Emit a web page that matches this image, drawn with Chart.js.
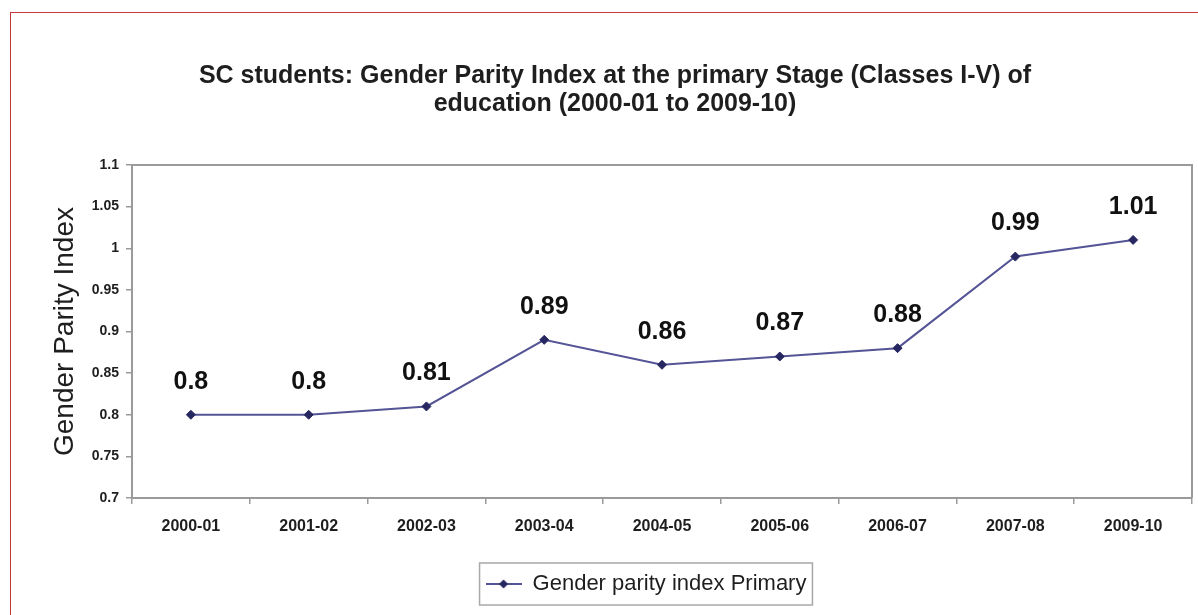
<!DOCTYPE html>
<html>
<head>
<meta charset="utf-8">
<title>SC students: Gender Parity Index</title>
<script src="https://cdn.jsdelivr.net/npm/chart.js@4/dist/chart.umd.min.js"></script>
<style>
  html, body { margin: 0; padding: 0; background: #fff; }
  #wrap { position: relative; width: 1198px; height: 615px; overflow: hidden; }
  #frame {
    position: absolute; left: 10px; top: 12px; width: 1300px; height: 700px;
    border-left: 1px solid #c4393d; border-top: 1px solid #c4393d;
  }
  #chart { position: absolute; left: 0; top: 0; }
</style>
</head>
<body>
<div id="wrap">
  <div id="frame"></div>
  <canvas id="chart" width="1198" height="615"></canvas>
</div>
<script>
// Gender Parity Index, primary stage, SC students
const years = ['2000-01', '2001-02', '2002-03', '2003-04', '2004-05', '2005-06', '2006-07', '2007-08', '2009-10'];
const gpiPrimary = [0.80, 0.80, 0.81, 0.89, 0.86, 0.87, 0.88, 0.99, 1.01];
const yTicks = [0.7, 0.75, 0.8, 0.85, 0.9, 0.95, 1, 1.05, 1.1];
const yTickLabels = ['0.7', '0.75', '0.8', '0.85', '0.9', '0.95', '1', '1.05', '1.1'];

const lineColor = '#545496';
const markerColor = '#262660';
const axisColor = '#9a9a9a';
const textColor = '#1e1e1e';
const FONT = 'Arial, "Liberation Sans", sans-serif';

// legend symbol: short line with a diamond in the middle
function legendSymbol() {
    const c = document.createElement('canvas');
    c.width = 36; c.height = 12;
    const g = c.getContext('2d');
    g.strokeStyle = lineColor;
    g.lineWidth = 2;
    g.beginPath(); g.moveTo(0, 6); g.lineTo(36, 6); g.stroke();
    g.fillStyle = markerColor;
    g.beginPath(); g.moveTo(18, 1.5); g.lineTo(22.5, 6); g.lineTo(18, 10.5); g.lineTo(13.5, 6); g.closePath(); g.fill();
    return c;
}

// value labels above each point
const valueLabels = {
    id: 'valueLabels',
    afterDatasetsDraw(chart) {
        const ctx = chart.ctx;
        const meta = chart.getDatasetMeta(0);
        ctx.save();
        ctx.font = 'bold 25px ' + FONT;
        ctx.fillStyle = '#111';
        ctx.textAlign = 'center';
        ctx.textBaseline = 'middle';
        meta.data.forEach(function (pt, i) {
            ctx.fillText(String(gpiPrimary[i]), pt.x, pt.y - 33);
        });
        ctx.restore();
    }
};

// top and right edges of the plot area
const plotFrame = {
    id: 'plotFrame',
    beforeDatasetsDraw(chart) {
        const a = chart.chartArea;
        const ctx = chart.ctx;
        ctx.save();
        ctx.strokeStyle = axisColor;
        ctx.lineWidth = 2;
        ctx.beginPath();
        ctx.moveTo(a.left, a.top);
        ctx.lineTo(a.right, a.top);
        ctx.lineTo(a.right, a.bottom);
        ctx.stroke();
        ctx.restore();
    }
};

// nudge title and legend right, and put a box around the legend
const legendBox = {
    id: 'legendBox',
    afterLayout(chart) {
        chart.legend.left += 45;
        chart.legend.right += 45;
        chart.titleBlock.left += 14;
        chart.titleBlock.right += 14;
    },
    afterDraw(chart) {
        const hb = chart.legend.legendHitBoxes[0];
        if (!hb) return;
        const ctx = chart.ctx;
        ctx.save();
        ctx.strokeStyle = '#a8a8a8';
        ctx.lineWidth = 1.5;
        const cy = hb.top + hb.height / 2;
        ctx.strokeRect(hb.left - 6, cy - 21, hb.width + 12, 42);
        ctx.restore();
    }
};

new Chart(document.getElementById('chart'), {
    type: 'line',
    data: {
        labels: years,
        datasets: [{
            label: 'Gender parity index Primary',
            data: gpiPrimary,
            borderColor: lineColor,
            borderWidth: 2,
            pointStyle: 'rectRot',
            pointRadius: 4.5,
            pointBackgroundColor: markerColor,
            pointBorderColor: markerColor,
            pointBorderWidth: 1,
            tension: 0
        }]
    },
    options: {
        responsive: false,
        animation: false,
        layout: { padding: { left: 10, right: 6, top: 0, bottom: 10 } },
        plugins: {
            title: {
                display: true,
                text: ['SC students: Gender Parity Index at the primary Stage (Classes I-V) of',
                       'education (2000-01 to 2009-10)'],
                color: textColor,
                font: { family: FONT, size: 25, weight: 'bold', lineHeight: 1.12 },
                padding: { top: 62, bottom: 47 }
            },
            legend: {
                position: 'bottom',
                labels: {
                    usePointStyle: true,
                    pointStyle: legendSymbol(),
                    pointStyleWidth: 36,
                    color: textColor,
                    font: { family: FONT, size: 22 },
                    padding: 10
                }
            },
            tooltip: { enabled: false }
        },
        scales: {
            x: {
                offset: true,
                grid: {
                    offset: true,
                    drawOnChartArea: false,
                    drawTicks: true,
                    tickLength: 6,
                    color: axisColor,
                    lineWidth: 1.5
                },
                border: { color: axisColor, width: 2 },
                ticks: {
                    color: textColor,
                    font: { family: FONT, size: 16, weight: 'bold' },
                    padding: 13,
                    maxRotation: 0,
                    autoSkip: false
                },
                afterFit(scale) { scale.height = 65; }
            },
            y: {
                min: 0.7,
                max: 1.1,
                afterBuildTicks(scale) {
                    scale.ticks = yTicks.map(function (v) { return { value: v }; });
                },
                grid: {
                    drawOnChartArea: false,
                    drawTicks: true,
                    tickLength: 6,
                    color: axisColor,
                    lineWidth: 1.5
                },
                border: { color: axisColor, width: 2 },
                ticks: {
                    color: textColor,
                    font: { family: FONT, size: 14, weight: 'bold' },
                    padding: 7,
                    callback: function (value, i) { return yTickLabels[i]; }
                },
                title: {
                    display: true,
                    text: 'Gender Parity Index',
                    color: textColor,
                    font: { family: FONT, size: 28 },
                    padding: { top: 38, bottom: 0 }
                },
                afterFit(scale) { scale.width = 122; }
            }
        }
    },
    plugins: [valueLabels, plotFrame, legendBox]
});
</script>
</body>
</html>
